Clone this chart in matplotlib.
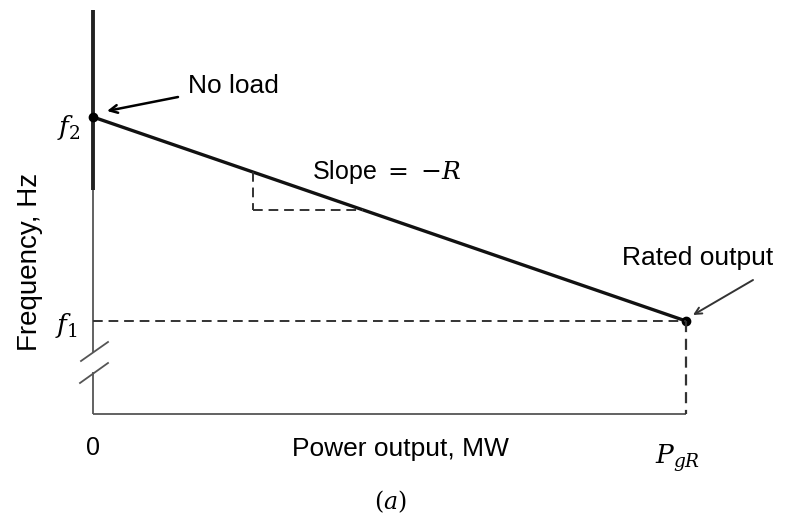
import matplotlib
matplotlib.use("Agg")
import matplotlib.pyplot as plt

# Data (normalised units): power output P and frequency f
power = [0.0, 1.0]          # 0 (no load) ... P_gR (rated)
freq = [1.0, 0.0]           # f2 (no load) ... f1 (rated)
tick_x_labels = ["0", r"$P_{gR}$"]
tick_y_labels = [r"$f_2$", r"$f_1$"]
slope_tri_x = [0.27, 0.455]  # points on the droop line used for slope triangle

plt.rcParams['font.family'] = ['Liberation Sans', 'DejaVu Sans']
plt.rcParams['mathtext.fontset'] = 'dejavuserif'

fig = plt.figure(figsize=(7.94, 5.15), dpi=100)
ax = fig.add_axes([0, 0, 1, 1])
# pixel mapping: x px = 93 + 593*P ; y px = 321 - 204*f
ax.set_xlim(-93 / 593, (794 - 93) / 593)
ax.set_ylim(-194 / 204, 321 / 204)
ax.axis('off')

def fy(py):
    return (321 - py) / 204

def px(x):
    return (x - 93) / 593

y_bottom = fy(414)
y_top = fy(10)

# y axis (thick upper part, thinner lower part, with break)
ax.plot([0, 0], [y_top, fy(190)], color='#222222', lw=2.8, solid_capstyle='butt')
ax.plot([0, 0], [fy(190), fy(352)], color='#555555', lw=1.3, solid_capstyle='butt')
ax.plot([0, 0], [fy(372), y_bottom], color='#555555', lw=1.3, solid_capstyle='butt')
# break marks
ax.plot([px(81), px(108)], [fy(361), fy(342)], color='#555555', lw=1.3)
ax.plot([px(80), px(108)], [fy(383), fy(363)], color='#555555', lw=1.3)
# x axis
ax.plot([0, power[1]], [y_bottom, y_bottom], color='#555555', lw=1.3, solid_capstyle='butt')

# droop line
ax.plot(power, freq, color='#111111', lw=2.4, solid_capstyle='round')
ax.plot(power, freq, 'o', color='black', ms=6)

# dashed guides
ax.plot([0, power[1]], [freq[1], freq[1]], color='#333333', lw=1.4, ls=(0, (5, 3)))
ax.plot([power[1], power[1]], [freq[1], y_bottom], color='#333333', lw=1.6, ls=(0, (5, 3)))

# slope triangle
xa, xb = slope_tri_x
ya = freq[0] + (freq[1] - freq[0]) * xa
yb = freq[0] + (freq[1] - freq[0]) * xb
ax.plot([xa, xa], [ya, yb], color='#333333', lw=1.4, ls=(0, (5, 3)))
ax.plot([xa, xb], [yb, yb], color='#333333', lw=1.4, ls=(0, (5, 3)))

# tick labels
ax.text(px(69), fy(128), tick_y_labels[0], fontsize=19, ha='center', va='center')
ax.text(px(66), fy(326), tick_y_labels[1], fontsize=19, ha='center', va='center')
ax.text(0, fy(448), tick_x_labels[0], fontsize=18, ha='center', va='center')
ax.text(px(678), fy(458), tick_x_labels[1], fontsize=19, ha='center', va='center')

# annotations
ax.text(px(188), fy(86), "No load", fontsize=19, ha='left', va='center')
ax.annotate("", xy=(px(107), fy(111)), xytext=(px(178), fy(97)),
            arrowprops=dict(arrowstyle='->', color='black', lw=1.8,
                            shrinkA=0, shrinkB=0, mutation_scale=14))
ax.text(px(698), fy(258), "Rated output", fontsize=19, ha='center', va='center')
ax.annotate("", xy=(px(693), fy(315)), xytext=(px(753), fy(280)),
            arrowprops=dict(arrowstyle='->', color='#333333', lw=1.4,
                            shrinkA=0, shrinkB=0, mutation_scale=12))
ax.text(px(312), fy(172), r"Slope $=$ $-R$", fontsize=18, ha='left', va='center')

# axis titles
ax.text(px(400), fy(449), "Power output, MW", fontsize=19, ha='center', va='center')
ax.text(px(30), fy(262), "Frequency, Hz", fontsize=20, ha='center', va='center', rotation=90)
ax.text(px(390), fy(502), r"$(a)$", fontsize=17, ha='center', va='center')

fig.savefig("out.png", dpi=100)
